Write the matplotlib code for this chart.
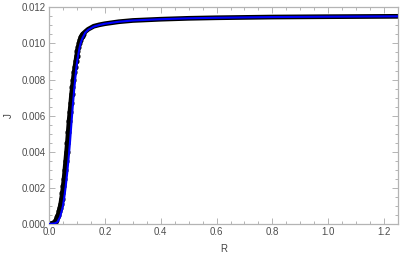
import matplotlib
matplotlib.use("Agg")
import matplotlib.pyplot as plt
from matplotlib.ticker import MultipleLocator

# puntos (negro)
r_pts = [0.0, 0.005, 0.010, 0.015, 0.020, 0.025,
         0.030, 0.033, 0.036, 0.039, 0.042, 0.045, 0.048, 0.051, 0.054, 0.057,
         0.060, 0.063, 0.066, 0.069, 0.072, 0.075, 0.078, 0.081, 0.084, 0.087,
         0.090, 0.093, 0.096, 0.099, 0.102, 0.105, 0.108, 0.111, 0.114, 0.117,
         0.120, 0.13, 0.14, 0.16, 0.18, 0.20, 0.25, 0.30, 0.40, 0.50, 0.60,
         0.70, 0.80, 1.00, 1.25]
j_pts = [0.0, 0.0, 0.00001, 0.00003, 0.0001, 0.0002,
         0.0004, 0.0005, 0.0007, 0.0009, 0.0011, 0.0014, 0.0017, 0.0021, 0.0025, 0.0030,
         0.0035, 0.0040, 0.0045, 0.0051, 0.0057, 0.0062, 0.0067, 0.0072, 0.0076, 0.0080,
         0.0084, 0.0087, 0.0090, 0.0093, 0.0096, 0.0098, 0.0100, 0.0102, 0.01033, 0.01043,
         0.0105, 0.01065, 0.01078, 0.01095, 0.01103, 0.01109, 0.0112, 0.01127, 0.01134, 0.01139, 0.01142,
         0.01144, 0.01146, 0.01148, 0.0115]

# curva (azul)
r_line = [0.0, 0.02, 0.03, 0.04, 0.05, 0.055, 0.06, 0.065, 0.07, 0.075, 0.08,
          0.085, 0.09, 0.095, 0.10, 0.105, 0.11, 0.115, 0.12, 0.13, 0.14, 0.16,
          0.18, 0.20, 0.25, 0.30, 0.40, 0.50, 0.60, 0.70, 0.80, 1.00, 1.25]
j_line = [0.0, 0.00003, 0.0001, 0.0004, 0.0010, 0.0015, 0.0021, 0.0028, 0.0036, 0.0045, 0.0055,
          0.0065, 0.0074, 0.0082, 0.0089, 0.0094, 0.0098, 0.0101, 0.0103, 0.0106, 0.01075, 0.01093,
          0.01102, 0.01109, 0.0112, 0.01127, 0.01134, 0.01139, 0.01142, 0.01144, 0.01146, 0.01148, 0.0115]

plt.rcParams['font.family'] = ['Liberation Sans', 'DejaVu Sans']

fig = plt.figure(figsize=(4.07, 2.57), dpi=100)
ax = fig.add_axes([0.1204, 0.1284, 0.8576, 0.8432])

n_marc = 37  # solo los puntos de la subida llevan marcador visible
ax.plot(r_pts, j_pts, color='black', lw=3.4, solid_capstyle='butt', zorder=2)
ax.plot(r_pts[:n_marc], j_pts[:n_marc], 'o', color='black', ms=3.4, zorder=2)
ax.plot(r_line, j_line, color='#0000ff', lw=1.5, zorder=3)

ax.set_xlim(0, 1.25)
ax.set_ylim(0, 0.012)
ax.xaxis.set_major_locator(MultipleLocator(0.2))
ax.xaxis.set_minor_locator(MultipleLocator(0.05))
ax.yaxis.set_major_locator(MultipleLocator(0.002))
ax.yaxis.set_minor_locator(MultipleLocator(0.0005))
ax.xaxis.set_major_formatter(plt.FuncFormatter(lambda v, p: f"{v:.1f}"))
ax.yaxis.set_major_formatter(plt.FuncFormatter(lambda v, p: f"{v:.3f}"))

gris = '#b4b4b4'
for s in ax.spines.values():
    s.set_color(gris)
    s.set_linewidth(0.9)
ax.tick_params(which='both', direction='in', top=True, right=True, color=gris,
               labelsize=7, labelcolor='#4d4d4d', width=0.7, pad=2)
ax.tick_params(which='major', length=4)
ax.tick_params(which='minor', length=2)

ax.set_xlabel('R', fontsize=7, color='#444444', labelpad=5)
ax.set_ylabel('J', fontsize=7, color='#444444', labelpad=6)

fig.savefig('out.png', dpi=100)
